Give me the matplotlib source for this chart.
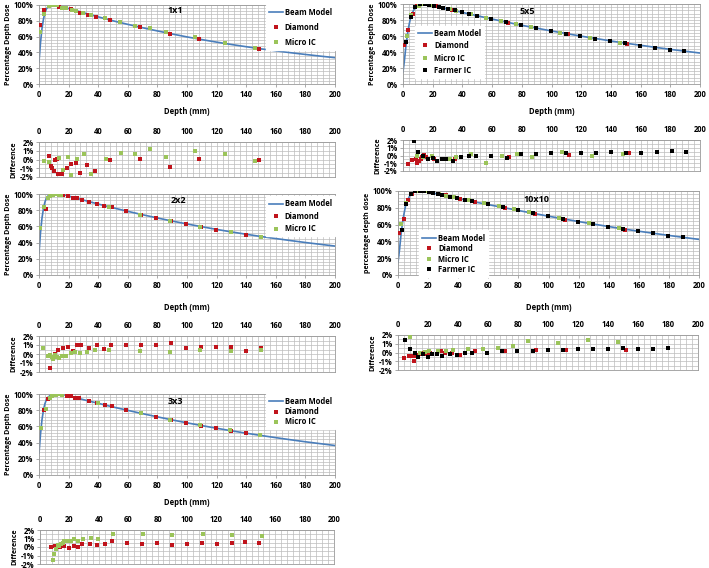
import matplotlib
matplotlib.use("Agg")
import matplotlib.pyplot as plt
from matplotlib.ticker import MultipleLocator, FuncFormatter
from matplotlib.lines import Line2D

plt.rcParams['font.family'] = ['Open Sans', 'DejaVu Sans']
plt.rcParams['font.weight'] = 'bold'

# ---------------- data ----------------
# beam model curves
beam_d = [0, 1, 2, 3, 4, 5, 6, 8, 10, 12, 14, 17, 20, 25, 30, 40, 50, 60, 70, 80,
          90, 100, 110, 120, 130, 140, 150, 160, 170, 180, 190, 200]
beam_1x1 = [28, 52, 70, 82, 90, 95, 97.5, 99.5, 100, 99.5, 98.7, 97.3, 95.5, 93, 90.2, 85, 80, 75.5,
            71.2, 67.2, 63.3, 59.6, 56.2, 53, 50, 47.2, 44.5, 42, 39.6, 37.4, 35.3, 33.3]
beam_2x2 = [27, 52, 70, 82, 90, 95, 97.5, 99.3, 100, 100, 99.8, 99, 97.5, 95, 92.5, 87.6, 83, 78.6,
            74.4, 70.4, 66.6, 63, 59.6, 56.3, 53.2, 50.3, 47.5, 45, 42.5, 40.1, 37.9, 35.7]
beam_3x3 = [27, 50, 68, 80, 88, 93, 96, 98.8, 99.8, 100, 100, 99, 97.8, 95.5, 93, 88.5, 84, 79.8,
            75.7, 71.8, 68, 64.4, 61, 57.7, 54.6, 51.6, 48.8, 46.1, 43.5, 41, 38.7, 36.4]
beam_5x5 = [15, 30, 48, 62, 73, 82, 88, 95, 98.5, 99.7, 100, 99.3, 98, 96, 93.8, 89.5, 85.3, 81.2,
            77.2, 73.4, 69.8, 66.3, 63, 59.8, 56.8, 53.8, 51, 48.4, 45.8, 43.3, 41, 38.7]
beam_10x10 = [15, 30, 48, 62, 73, 82, 88, 95, 98.5, 99.7, 100, 99.5, 98.7, 97, 95.3, 91.2, 87.3, 83.8,
              80.3, 76.8, 73.4, 70, 66.8, 63.6, 60.6, 57.7, 54.8, 52.1, 49.6, 47.1, 44.7, 42.4]

# 1x1 measured
dia_1x1_d = [0.7, 3.6, 7.4, 10.4, 13.5, 16.4, 21.6, 27.7, 32.9, 38.3, 48, 68.2, 88.5, 108.3, 148.9]
dia_1x1_v = [74.7, 93.7, 99.5, 99.5, 98, 96, 94.5, 90.3, 87.3, 85.2, 81, 71.7, 63.3, 56.5, 44.7]
mic_1x1_d = [0.7, 3.6, 6.8, 9.7, 11.9, 15.3, 18.2, 22, 25, 29.5, 34.9, 44.8, 54.7, 64.9, 75, 85.6,
             105.4, 125.7, 145.9]
mic_1x1_v = [65.4, 88.5, 99, 100, 99.6, 96.6, 96.2, 93.7, 92.4, 90.3, 87.3, 83, 78.9, 73.8, 70.5,
             65.4, 59.1, 52.3, 46]
ddia_1x1_d = [7, 7.9, 9, 10.2, 10.8, 11.9, 13.1, 14.6, 15.5, 18.7, 21.4, 25, 27.7, 32.7, 37.9, 48,
              68.3, 88.6, 108.2, 148.7]
ddia_1x1_v = [0.4, -0.7, -1.0, -1.3, 0.0, 0.1, -1.6, -1.6, -1.6, -1.0, -0.5, -0.4, -1.5, -0.6, -1.3,
              -0.1, 0.1, -0.9, 0.05, 0.0]
dmic_1x1_d = [3.6, 6.8, 13.8, 16.3, 19.5, 21.7, 25.6, 30.1, 35, 45.4, 55.3, 65, 75, 85.5, 105.6,
              125.9, 146.2]
dmic_1x1_v = [-0.2, -0.3, 0.2, -1.2, 0.3, -1.8, 0.1, 0.6, -1.6, 0.1, 0.7, 0.6, 1.15, 0.3, 1.0, 0.6,
              -0.15]

# 2x2 measured
dia_2x2_d = [4.5, 16.5, 19.9, 23.3, 26, 28.9, 33.9, 39.1, 44, 49.2, 58.9, 69.1, 79.2, 89.2, 99.3,
             109.5, 119.6, 129.8, 140, 149.7]
dia_2x2_v = [81.5, 98.8, 97, 95.5, 94.5, 93, 90, 88, 85.5, 83.5, 79, 74.5, 70.5, 66.5, 62.5, 59, 56,
             53, 50, 47.5]
mic_2x2_d = [0.7, 3.6, 6.3, 7.4, 8.6, 9.7, 10.8, 12, 13.5, 14.9, 47.4, 68.4, 88.7, 109, 129.4, 149.7]
mic_2x2_v = [58.5, 84, 95.5, 97, 98.5, 99, 99.5, 99.5, 99, 98.5, 83.5, 74.5, 66.5, 59, 53, 47.5]
ddia_2x2_d = [7.3, 10.5, 13.1, 16, 19.5, 22.7, 25.4, 28.5, 33.5, 39, 44, 48.5, 58.7, 68.9, 79, 89.2,
              99.4, 109.5, 119.7, 129.8, 140, 149.7]
ddia_2x2_v = [-1.6, 0.0, 0.5, 0.7, 0.8, 0.3, 1.0, 0.95, 0.7, 0.95, 0.6, 0.95, 0.95, 1.05, 1.05, 1.2,
              0.65, 0.75, 0.8, 0.75, 0.35, 0.7]
dmic_2x2_d = [2.9, 6.3, 7.5, 8.6, 9.7, 10.8, 12, 13.6, 15.6, 18.1, 21.8, 24, 27.6, 32.4, 37.5, 47.5,
              68.2, 88.6, 109, 129.4, 149.8]
dmic_2x2_v = [0.7, -0.2, -0.1, -0.35, -0.6, -0.15, -0.35, -0.4, -0.25, -0.2, 0.15, 0.2, 0.1, 0.25,
              0.5, 0.5, 0.3, 0.25, 0.5, 0.3, 0.5]

# 3x3 measured
dia_3x3_d = [3.4, 6.3, 18.7, 21.3, 24, 27, 33.7, 39.3, 44.3, 49.4, 59.1, 69.2, 79.3, 89.2, 99.3,
             109.4, 119.6, 129.7, 139.8, 149.4]
dia_3x3_v = [80, 94.3, 98, 97, 95.5, 94.5, 91.5, 89.3, 86.9, 84.8, 80.3, 76, 72, 68.4, 64.3, 61, 57.5,
             54.5, 51.5, 49.5]
mic_3x3_d = [1.1, 4.5, 7.4, 9, 11.2, 13.5, 15.7, 40, 69.2, 88.8, 109, 129.2, 149.4]
mic_3x3_v = [58, 82, 95.5, 97.5, 98.8, 99.5, 99, 89.5, 76.5, 68.5, 61.5, 55, 49.5]
ddia_3x3_d = [7.5, 10.2, 13.6, 16.6, 19.7, 22.9, 25.8, 28.8, 34, 38.8, 44, 49.2, 59.4, 69.6, 79.8, 90,
              100.2, 110.4, 120.6, 130.8, 139.4, 149.1]
ddia_3x3_v = [0.0, 0.1, 0.0, 0.1, -0.1, 0.1, 0.05, 0.35, 0.35, 0.2, 0.35, 0.65, 0.5, 0.35, 0.45, 0.2,
              0.35, 0.5, 0.3, 0.5, 0.6, 0.5]
dmic_3x3_d = [8.6, 9.7, 10.9, 12, 13.1, 14.3, 15.4, 16.6, 18.8, 20.9, 23.1, 26.1, 29.5, 34.7, 39.7,
              49.9, 70.3, 90, 110.7, 130.4, 150.8]
dmic_3x3_v = [-1.5, -0.8, -0.25, 0.2, 0.1, 0.35, 0.5, 0.65, 0.65, 0.75, 0.9, 0.75, 1.0, 1.1, 0.9, 1.5,
              1.5, 1.4, 1.5, 1.4, 1.3]

# 5x5 measured
dia_5x5_d = [0.8, 3.5, 6.5, 9.5, 12.5, 15.5, 22, 33, 71, 111, 151]
dia_5x5_v = [49, 67, 88, 97.5, 99.5, 100, 97, 93, 76.5, 62.5, 50]
mic_5x5_d = [2.5, 5.5, 10.5, 13.5, 19, 31.5, 36, 46, 56, 66, 76, 86, 106, 126, 146]
mic_5x5_v = [60, 86, 98, 99.5, 98.5, 94, 91.5, 87, 82.5, 78.5, 74.5, 71, 64, 57.5, 51.5]
far_5x5_d = [1.8, 5.2, 8.3, 11.5, 14.5, 17.7, 20.8, 24, 27.2, 30.5, 34.8, 39.5, 44.5, 49.5, 59.5,
             69.5, 79.5, 89.5, 99.5, 109.5, 119.5, 129.5, 139.5, 149.5, 159.5, 169.5, 179.5, 189.5]
far_5x5_v = [52, 84, 96, 99.5, 100, 99, 98, 96.5, 95.5, 94, 92, 89.5, 87.5, 85.5, 81, 77, 73.5, 70, 66,
             63, 59.5, 56.5, 53.5, 51, 48, 45.5, 43, 41]
ddia_5x5_d = [3.6, 6.3, 8.6, 9.7, 10.9, 12, 13.1, 14.3, 15.4, 21.1, 34.7, 71.1, 111.7, 152.4]
ddia_5x5_v = [-1.1, -0.6, -0.4, -1.0, -0.65, -0.5, -0.2, 0.1, -0.25, -0.5, -0.45, -0.25, 0.1, 0.35]
dmic_5x5_d = [9.7, 13.8, 19.3, 31.7, 35.8, 46, 56.2, 66.4, 76.6, 86.7, 107.1, 127.5, 147.9]
dmic_5x5_v = [0.0, -0.25, 0.0, -0.5, -0.25, 0.2, -1.0, 0.0, 0.2, -0.25, 0.45, 0.0, 0.2]
dfar_5x5_d = [7.5, 10.4, 13.6, 17, 19.9, 22.7, 26, 29.2, 34, 39.2, 44.2, 49.2, 59.1, 69.8, 79.3, 89.5,
              99.7, 109.9, 120, 130.2, 140.2, 150.4, 160.6, 170.8, 181, 190.7]
dfar_5x5_v = [1.9, 0.5, 0.0, -0.5, -0.3, -0.7, -0.45, -0.5, -0.65, -0.2, 0.0, 0.0, 0.0, -0.35, 0.15,
              0.15, 0.35, 0.3, 0.35, 0.3, 0.5, 0.35, 0.35, 0.5, 0.6, 0.5]

# 10x10 measured
dia_10_d = [0.8, 3.8, 6.5, 9.5, 12.5, 16, 22, 27, 32, 41, 51, 71, 91, 111, 151]
dia_10_v = [49.5, 67, 89, 97, 99.5, 100, 98.5, 96.5, 95, 91, 87, 79.5, 72.5, 66, 54]
mic_10_d = [2, 5, 11, 14, 18, 21, 27, 32, 37, 47, 57, 67, 77, 87, 107, 127, 147]
mic_10_v = [61, 86, 99.5, 100, 99.5, 98.5, 97, 94.5, 92.5, 89, 85.5, 82, 78, 74.5, 68, 62, 56]
far_10_d = [2.5, 5.5, 8.5, 11.5, 14.5, 17.5, 20.5, 23.5, 26.5, 29.5, 34.5, 39.5, 44.5, 49.5, 59.5,
            69.5, 79.5, 89.5, 99.5, 109.5, 119.5, 129.5, 139.5, 149.5, 159.5, 169.5, 179.5, 189.5]
far_10_v = [53, 84, 96, 99.5, 100, 99.5, 99, 98, 97, 95.5, 93, 91.5, 89.5, 87.5, 84, 80.5, 77, 73.5,
            70, 66.5, 63.5, 60.5, 57.5, 55, 52, 49.5, 47, 45]
ddia_10_d = [3.8, 7.3, 9.6, 10.7, 12.2, 13.3, 14.4, 15.6, 18.4, 21.6, 28.4, 31.6, 36.2, 41.6, 51.6,
             71.6, 92, 112, 152.2]
ddia_10_v = [-0.6, -0.4, -0.4, -1.0, -0.4, -0.3, -0.2, -0.1, -0.2, -0.1, 0.2, 0.0, 0.0, -0.25, 0.15,
             0.2, 0.25, 0.3, 0.25]
dmic_10_d = [8.2, 11.1, 14.4, 17.8, 20.4, 26.7, 32.2, 36.7, 46.7, 56.7, 66.7, 76.7, 86.7, 106.7,
             126.7, 146.7]
dmic_10_v = [1.8, -0.1, 0.0, 0.1, 0.2, 0.15, 0.15, 0.25, 0.4, 0.45, 0.5, 0.8, 1.3, 1.05, 1.45, 1.2]
dfar_10_d = [4.9, 8.2, 11.1, 13.3, 16.7, 20, 22.9, 26, 29.3, 34.4, 39.6, 44.4, 49.6, 59.6, 69.6,
             79.6, 90, 100, 110, 120, 130, 140, 150, 160, 170, 180]
dfar_10_v = [1.45, 0.4, 0.0, -0.5, -0.2, -0.5, -0.2, -0.2, -0.4, -0.2, -0.3, -0.1, 0.0, -0.05, 0.2,
             0.2, 0.15, 0.25, 0.25, 0.35, 0.35, 0.35, 0.55, 0.45, 0.4, 0.55]

# ---------------- styling ----------------
W, H = 709, 568
BLUE = '#4a7ebb'
RED = '#c0141c'
GREEN = '#9bc45a'
BLACK = '#000000'
GRID = '#bcbcbc'
FS = 5.5
MS = 2.3

fig = plt.figure(figsize=(W / 100, H / 100), dpi=100)


def px_axes(x0, y0, x1, y1):
    return fig.add_axes([x0 / W, 1 - y1 / H, (x1 - x0) / W, (y1 - y0) / H])


def base_style(ax):
    ax.set_xlim(0, 200)
    ax.xaxis.set_major_locator(MultipleLocator(20))
    ax.xaxis.set_minor_locator(MultipleLocator(4))
    ax.grid(True, which='both', color=GRID, lw=0.5)
    ax.set_axisbelow(True)
    for s in ax.spines.values():
        s.set_color('#999999')
        s.set_linewidth(0.6)
    ax.tick_params(labelsize=FS, length=2, width=0.5, color='#888888', pad=2)
    ax.tick_params(which='minor', length=0)


def pdd(rect, title, title_pos, series, legend_anchor, spacing, legend_loc='upper right',
        ylabel='Percentage Depth Dose', xlabel_pad=6):
    ax = px_axes(*rect)
    base_style(ax)
    ax.set_ylim(0, 100)
    ax.yaxis.set_major_locator(MultipleLocator(20))
    ax.yaxis.set_minor_locator(MultipleLocator(4))
    ax.yaxis.set_major_formatter(FuncFormatter(lambda v, p: f'{v:.0f}%'))
    ax.set_xlabel('Depth (mm)', fontsize=FS, fontweight='bold', labelpad=xlabel_pad)
    ax.set_ylabel(ylabel, fontsize=5, fontweight='bold', labelpad=1.5)
    handles = []
    for name, d, v, c in series:
        if name == 'Beam Model':
            ax.plot(d, v, color=c, lw=1.2, zorder=2)
            handles.append(Line2D([], [], color=c, lw=1.2, label=name))
        else:
            ax.plot(d, v, ls='none', marker='s', ms=MS, mew=0, color=c, zorder=3)
            handles.append(Line2D([], [], ls='none', marker='s', ms=MS, mew=0, color=c, label=name))
    ax.text(title_pos[0], title_pos[1], title, transform=ax.transAxes, fontsize=FS + 1,
            fontweight='bold', ha='center', va='center')
    leg = ax.legend(handles=handles, loc=legend_loc, bbox_to_anchor=legend_anchor, fontsize=FS,
                    frameon=True, fancybox=False, edgecolor='white', framealpha=1,
                    handlelength=1.8, handletextpad=0.3, borderpad=0.4, labelspacing=spacing,
                    borderaxespad=0)
    leg.set_zorder(5)
    for t in leg.get_texts():
        t.set_fontweight('bold')
    return ax


def diff(rect, series):
    ax = px_axes(*rect)
    base_style(ax)
    ax.set_ylim(-2, 2)
    ax.yaxis.set_major_locator(MultipleLocator(1))
    ax.yaxis.set_minor_locator(MultipleLocator(0.5))
    ax.yaxis.set_major_formatter(FuncFormatter(lambda v, p: f'{v:.0f}%'))
    ax.xaxis.tick_top()
    ax.tick_params(axis='x', which='both', top=False, labeltop=True, bottom=False, labelbottom=False)
    ax.set_ylabel('Difference', fontsize=5, fontweight='bold', labelpad=1.5)
    for d, v, c in series:
        ax.plot(d, v, ls='none', marker='s', ms=MS, mew=0, color=c, zorder=3)
    return ax


# ---------------- left column ----------------
pdd((39, 5, 335, 84), '1x1', (0.46, 0.93),
    [('Beam Model', beam_d, beam_1x1, BLUE), ('Diamond', dia_1x1_d, dia_1x1_v, RED),
     ('Micro IC', mic_1x1_d, mic_1x1_v, GREEN)],
    (1.0, 1.0), 0.75)
diff((39, 142, 335, 177), [(ddia_1x1_d, ddia_1x1_v, RED), (dmic_1x1_d, dmic_1x1_v, GREEN)])

pdd((39, 194, 335, 275), '2x2', (0.47, 0.92),
    [('Beam Model', beam_d, beam_2x2, BLUE), ('Diamond', dia_2x2_d, dia_2x2_v, RED),
     ('Micro IC', mic_2x2_d, mic_2x2_v, GREEN)],
    (1.0, 0.97), 0.45, xlabel_pad=10)
diff((39, 336, 335, 372), [(ddia_2x2_d, ddia_2x2_v, RED), (dmic_2x2_d, dmic_2x2_v, GREEN)])

pdd((39, 394, 335, 475), '3x3', (0.46, 0.91),
    [('Beam Model', beam_d, beam_3x3, BLUE), ('Diamond', dia_3x3_d, dia_3x3_v, RED),
     ('Micro IC', mic_3x3_d, mic_3x3_v, GREEN)],
    (1.0, 1.0), 0.15)
diff((40, 530, 334, 564), [(ddia_3x3_d, ddia_3x3_v, RED), (dmic_3x3_d, dmic_3x3_v, GREEN)])

# ---------------- right column ----------------
pdd((403, 4, 700, 84), '5x5', (0.42, 0.91),
    [('Beam Model', beam_d, beam_5x5, BLUE), ('Diamond', dia_5x5_d, dia_5x5_v, RED),
     ('Micro IC', mic_5x5_d, mic_5x5_v, GREEN), ('Farmer IC', far_5x5_d, far_5x5_v, BLACK)],
    (0.04, 0.73), 0.45, legend_loc='upper left')
diff((403, 140, 700, 171), [(ddia_5x5_d, ddia_5x5_v, RED), (dmic_5x5_d, dmic_5x5_v, GREEN),
                            (dfar_5x5_d, dfar_5x5_v, BLACK)])

pdd((398, 191, 699, 275), '10x10', (0.46, 0.9),
    [('Beam Model', beam_d, beam_10x10, BLUE), ('Diamond', dia_10_d, dia_10_v, RED),
     ('Micro IC', mic_10_d, mic_10_v, GREEN), ('Farmer IC', far_10_d, far_10_v, BLACK)],
    (0.07, 0.53), 0.2, legend_loc='upper left', ylabel='percentage depth dose', xlabel_pad=10)
diff((398, 335, 698, 370), [(ddia_10_d, ddia_10_v, RED), (dmic_10_d, dmic_10_v, GREEN),
                            (dfar_10_d, dfar_10_v, BLACK)])

fig.savefig('out.png', dpi=100)
